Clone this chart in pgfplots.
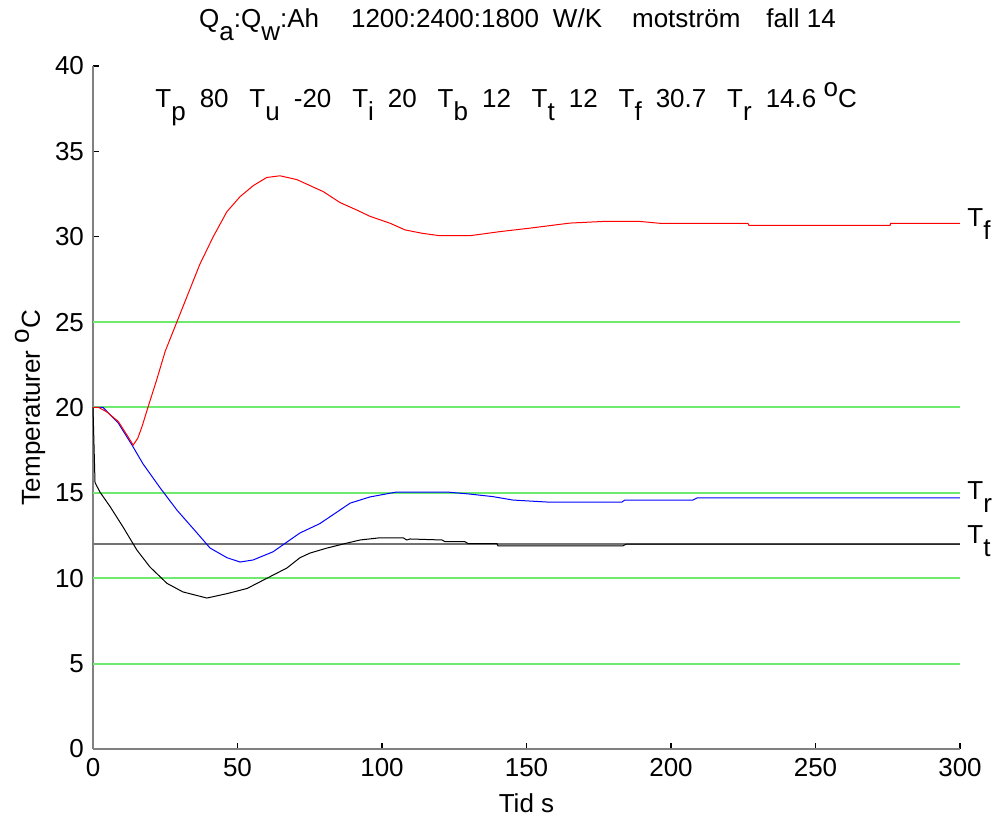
\documentclass[border=0pt]{standalone}
\usepackage{fontspec}
\setmainfont{Liberation Sans}
\usepackage{pgfplots}
\pgfplotsset{compat=1.18}
\newcommand\sub[1]{\raisebox{-6.5pt}{#1}}
\newcommand\sups[1]{\raisebox{5.5pt}{#1}}
\newcommand\ga{\hspace{0.54em}}
\newcommand\gb{\hspace{0.8em}}
\definecolor{mgreen}{RGB}{110,235,110}
\begin{document}
\fontsize{13}{15.6}\selectfont
\begin{tikzpicture}
\begin{axis}[
  scale only axis,
  width=433.5pt, height=341.5pt,
  xmin=0, xmax=300, ymin=0, ymax=40,
  xtick={0,50,...,300}, ytick={0,5,...,40},
  axis x line=bottom, axis y line=left,
  axis line style={-, draw=gray, line width=0.7pt},
  tick align=inside, major tick length=3pt,
  tick style={black, line width=0.6pt},
  /pgf/number format/assume math mode=true,
  font=\fontsize{13}{15.6}\selectfont,
  ticklabel style={font=\fontsize{13}{15.6}\selectfont},
  xlabel={Tid s},
  ylabel={Temperaturer \sups{o}C},
  every axis x label/.style={at={(axis description cs:0.5,-0.079)},anchor=center},
  every axis y label/.style={at={(axis description cs:-0.0727,0.5)},anchor=center,rotate=90},
  clip=false,
]
% green reference lines
\addplot[mgreen, line width=1pt] coordinates {(0,5)(300,5)};
\addplot[mgreen, line width=1pt] coordinates {(0,10)(300,10)};
\addplot[mgreen, line width=1pt] coordinates {(0,15)(300,15)};
\addplot[mgreen, line width=1pt] coordinates {(0,20)(300,20)};
\addplot[mgreen, line width=1pt] coordinates {(0,25)(300,25)};
% T_b reference line
\addplot[black!55, line width=0.7pt] coordinates {(0,12)(300,12)};
% T_t
\addplot[black, line width=0.5pt] coordinates {
(0,20)(0.7,15.6)(2.4,15.05)(5.9,14.2)(10.4,13.0)(15.2,11.65)(19.7,10.66)(25.6,9.7)(31.1,9.2)(39.4,8.84)(46.4,9.1)(53.3,9.4)(60.2,10.0)(67.1,10.6)(71.6,11.2)(75,11.47)(81,11.77)(87.9,12.06)(92.4,12.24)(99.3,12.37)(107.3,12.37)(108.6,12.24)(109.7,12.3)(120.8,12.24)(121.8,12.14)(128.7,12.14)(129.8,12.03)(139.8,12.03)(140.1,11.9)(183.4,11.9)(184.5,12.0)(300,12.0)
};
% T_r
\addplot[blue, line width=0.5pt] coordinates {
(0,20)(3.5,20)(8.7,19.1)(13.5,17.8)(17.3,16.7)(23.2,15.3)(29,14.0)(36,12.65)(40.5,11.77)(46.4,11.2)(50.9,10.95)(55.4,11.07)(62.3,11.55)(71.6,12.65)(78.5,13.2)(89,14.4)(95.8,14.76)(105,15.05)(122.5,15.05)(130.4,14.93)(138.4,14.78)(145.3,14.58)(157.4,14.46)(183,14.46)(184,14.58)(207.6,14.58)(209,14.7)(300,14.7)
};
% T_f
\addplot[red, line width=0.5pt] coordinates {
(0,20)(2,20)(4.7,19.75)(8.8,19.17)(11.7,18.4)(13.9,17.8)(15.5,18.2)(17,18.9)(19,20.0)(22,21.6)(25,23.3)(29,25.0)(33,26.7)(37,28.4)(41.6,30.0)(46.3,31.46)(50.9,32.35)(55.5,33.0)(60.1,33.47)(64.7,33.57)(70.5,33.35)(79.7,32.64)(85.5,32.0)(91.2,31.57)(95.8,31.2)(102.8,30.79)(108,30.4)(114,30.2)(120,30.06)(130.4,30.06)(140.8,30.3)(151,30.5)(165,30.8)(177,30.9)(189,30.9)(196,30.79)(226.6,30.79)(227,30.66)(275.8,30.66)(276,30.79)(300,30.79)
};
\end{axis}
% curve labels
\node[anchor=west, inner sep=0pt] at (437pt,{(749-224)*0.5pt}) {T\sub{f}};
\node[anchor=west, inner sep=0pt] at (437pt,{(749-497)*0.5pt}) {T\sub{r}};
\node[anchor=west, inner sep=0pt] at (437pt,{(749-541)*0.5pt}) {T\sub{t}};
% title line 1
\node[anchor=base] at ({(517.5-93)*0.5pt},360.5pt) {Q\sub{a}:Q\sub{w}:Ah\hspace{16pt}1200:2400:1800\hspace{7pt}W/K\hspace{15pt}motström\hspace{13pt}fall 14};
% title line 2
\node[anchor=base west, inner sep=0pt] at ({(155-93)*0.5pt},320.5pt) {T\sub{p}\ga 80\gb T\sub{u}\ga -20\gb T\sub{i}\ga 20\gb T\sub{b}\ga 12\gb T\sub{t}\ga 12\gb T\sub{f}\ga 30.7\gb T\sub{r}\ga 14.6 \sups{o}C};
\path[use as bounding box] (-46.5pt,-36pt) rectangle (449.5pt,374.5pt);
\end{tikzpicture}
\end{document}
